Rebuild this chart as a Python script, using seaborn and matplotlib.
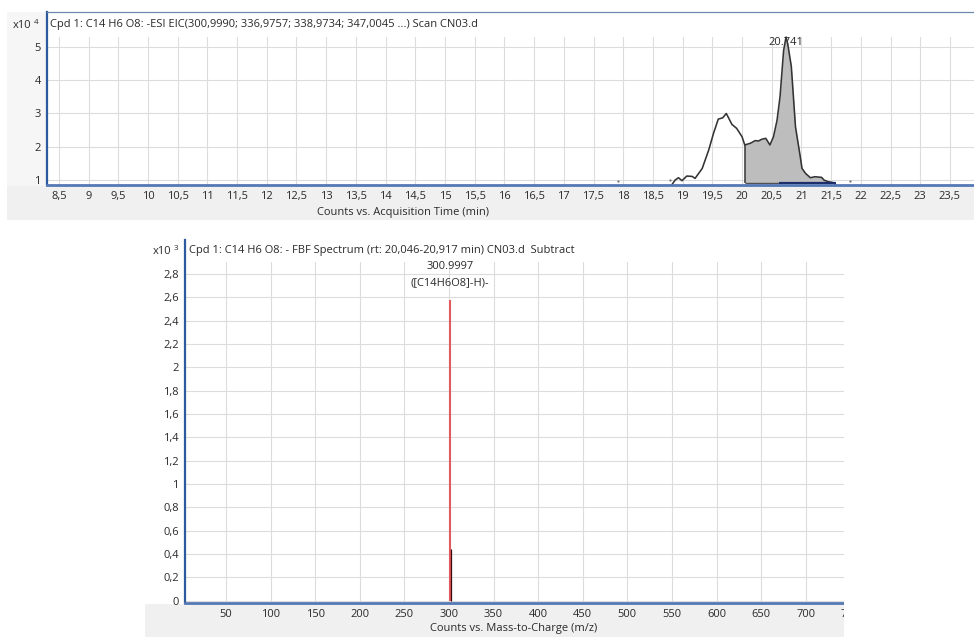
import numpy as np
import matplotlib
matplotlib.use("Agg")
import matplotlib.pyplot as plt
import seaborn as sns
from matplotlib.patches import Rectangle
from matplotlib.ticker import FuncFormatter

# ---------------- data ----------------
# Extracted ion chromatogram, counts in units of 1e4
eic_time = [18.80, 18.875, 18.93, 18.99, 19.07, 19.16, 19.21, 19.33, 19.44, 19.52,
            19.60, 19.675, 19.735, 19.77, 19.83, 19.91, 20.00, 20.046, 20.14, 20.22,
            20.28, 20.33, 20.40, 20.47, 20.53, 20.59, 20.64, 20.70, 20.741, 20.77,
            20.83, 20.90, 20.98, 21.01, 21.07, 21.15, 21.23, 21.34, 21.38, 21.45,
            21.54, 21.60]
eic_counts = [0.80, 0.99, 1.06, 0.97, 1.11, 1.10, 1.04, 1.34, 1.90, 2.40,
              2.83, 2.87, 3.00, 2.88, 2.67, 2.55, 2.30, 2.05, 2.10, 2.18,
              2.17, 2.22, 2.25, 2.05, 2.30, 2.80, 3.51, 4.90, 5.31, 5.10,
              4.42, 2.60, 1.70, 1.34, 1.19, 1.06, 1.09, 1.07, 0.99, 0.94,
              0.91, 0.80]
noise_time = [17.92, 18.79, 21.81]
noise_counts = [0.96, 0.98, 0.95]

peak_start = 20.046
peak_end = 21.54
peak_rt = 20.741
peak_label = "20.741"
baseline_level = 0.89
baseline_split = 20.62
baseline_end = 21.58

# Spectrum, counts in units of 1e3
spec_mz = [300.9997, 302.003]
spec_counts = [2.58, 0.44]
spec_label = "300.9997"
spec_formula = "([C14H6O8]-H)-"

eic_title = "Cpd 1: C14 H6 O8: -ESI EIC(300,9990; 336,9757; 338,9734; 347,0045 ...) Scan CN03.d"
spec_title = "Cpd 1: C14 H6 O8: - FBF Spectrum (rt: 20,046-20,917 min) CN03.d  Subtract"
eic_xlabel = "Counts vs. Acquisition Time (min)"
spec_xlabel = "Counts vs. Mass-to-Charge (m/z)"
eic_exp = "4"
spec_exp = "3"

eic_xticks = np.arange(8.5, 24.01, 0.5)
eic_yticks = [1, 2, 3, 4, 5]
spec_xticks = np.arange(50, 751, 50)
spec_yticks = np.arange(0, 2.81, 0.2)

# ---------------- style ----------------
sns.set_style("white")
plt.rcParams["font.family"] = ["Open Sans", "DejaVu Sans"]
TXT = "#2a2a2a"
GRID = "#dcdcdc"
PANEL = "#f0f0f0"
SPINE_L = "#2c5a9c"
SPINE_B = "#5479b4"
FS = 8.0

W, H = 974, 637
fig = plt.figure(figsize=(W / 100, H / 100), dpi=100)
fig.patch.set_facecolor("white")


def rect(left, top, right, bottom):
    return [left / W, 1 - bottom / H, (right - left) / W, (bottom - top) / H]


def fig_box(left, top, right, bottom, color, z):
    fig.patches.append(Rectangle((left / W, 1 - bottom / H), (right - left) / W,
                                 (bottom - top) / H, transform=fig.transFigure,
                                 facecolor=color, edgecolor="none", zorder=z))


comma = FuncFormatter(lambda v, p: f"{v:g}".replace(".", ","))

# grey label panes behind the axes
fig_box(7, 12, 47, 187, "#f6f6f6", -2)
fig_box(7, 186, W, 220, PANEL, -2)
fig_box(145, 604, 844, H, PANEL, -2)


def style_axes(ax, band_frac):
    ax.set_facecolor("white")
    ax.grid(True, color=GRID, lw=0.8)
    ax.set_axisbelow(True)
    ax.add_patch(Rectangle((0, band_frac), 1, 1 - band_frac, transform=ax.transAxes,
                           facecolor="white", edgecolor="none", zorder=1))
    ax.tick_params(axis="both", direction="out", length=3.5, width=0.8, color="#606060",
                   labelsize=FS, labelcolor=TXT, pad=1.0)
    ax.spines["left"].set_color(SPINE_L)
    ax.spines["left"].set_linewidth(1.6)
    ax.spines["bottom"].set_color(SPINE_B)
    ax.spines["bottom"].set_linewidth(2.0)
    ax.spines["right"].set_visible(False)
    ax.xaxis.set_major_formatter(comma)
    ax.yaxis.set_major_formatter(comma)


# ---------------- chromatogram ----------------
ax1 = fig.add_axes(rect(47, 12, 982.6, 185))
ax1.set_xlim(8.30, 24.05)
ax1.set_ylim(0.84, 6.066)
ax1.set_xticks(eic_xticks)
ax1.set_yticks(eic_yticks)
style_axes(ax1, (185 - 37) / 173)
ax1.spines["top"].set_color("#6f89ad")
ax1.spines["top"].set_linewidth(0.9)

t = np.array(eic_time)
c = np.array(eic_counts)
win = (t >= peak_start) & (t <= peak_end)
ax1.fill_between(t[win], baseline_level, c[win], color="#bdbdbd", lw=0, zorder=1.6)
ax1.vlines(peak_start, baseline_level, c[t == peak_start][0], color="#333333", lw=1.1, zorder=2.1)
ax1.hlines(baseline_level, peak_start, baseline_split, color="#505050", lw=1.0, zorder=2.1)
ax1.hlines(baseline_level, baseline_split, baseline_end, color="#1d2f6a", lw=1.6, zorder=2.2)
ax1.text(peak_rt, 5.13, peak_label, ha="center", va="center", fontsize=FS, color=TXT, zorder=1.5)
sns.lineplot(x=eic_time, y=eic_counts, ax=ax1, color="#333333", lw=1.15, sort=False,
             estimator=None, zorder=2)
ax1.scatter(noise_time, noise_counts, s=2.5, color="#707070", zorder=2, linewidths=0)
ax1.set_xlabel("")
ax1.set_ylabel("")
ax1.text((50 - 47) / 935.6, (185 - 25) / 173, eic_title, transform=ax1.transAxes,
         ha="left", va="center", fontsize=FS, color=TXT, zorder=3)
ax1.text((403 - 47) / 935.6, (185 - 212) / 173, eic_xlabel, transform=ax1.transAxes,
         ha="center", va="center", fontsize=FS, color=TXT)
fig.text(13 / W, 1 - 26 / H, "x10", ha="left", va="center", fontsize=FS, color=TXT)
fig.text(33.5 / W, 1 - 23 / H, eic_exp, ha="left", va="center", fontsize=FS - 2.2, color=TXT)

# ---------------- spectrum ----------------
ax2 = fig.add_axes(rect(185, 240, 859.2, 603))
ax2.set_xlim(4.0, 760)
ax2.set_ylim(-0.0197, 3.091)
ax2.set_xticks(spec_xticks)
ax2.set_yticks(spec_yticks)
style_axes(ax2, (603 - 262) / 363)
ax2.spines["top"].set_visible(False)

ax2.vlines(spec_mz[0], 0, spec_counts[0], color="#e05a5e", lw=1.5, zorder=2)
ax2.vlines(spec_mz[1], 0, spec_counts[1], color="#3a0808", lw=0.9, zorder=2.1)
ax2.text(spec_mz[0], 2.86, spec_label, ha="center", va="center", fontsize=FS, color=TXT, zorder=3)
ax2.text(spec_mz[0], 2.73, spec_formula, ha="center", va="center", fontsize=FS, color=TXT, zorder=3)
ax2.text((189 - 185) / 674.2, (603 - 251) / 363, spec_title, transform=ax2.transAxes,
         ha="left", va="center", fontsize=FS, color=TXT, zorder=3)
ax2.text((514 - 185) / 674.2, (603 - 629) / 363, spec_xlabel, transform=ax2.transAxes,
         ha="center", va="center", fontsize=FS, color=TXT)
fig.text(153 / W, 1 - 252 / H, "x10", ha="left", va="center", fontsize=FS, color=TXT)
fig.text(173.5 / W, 1 - 249 / H, spec_exp, ha="left", va="center", fontsize=FS - 2.2, color=TXT)

# the spectrum pane ends at m/z ~743
fig_box(844, 232, W, H, "white", 20)

fig.savefig("out.png", dpi=100)
